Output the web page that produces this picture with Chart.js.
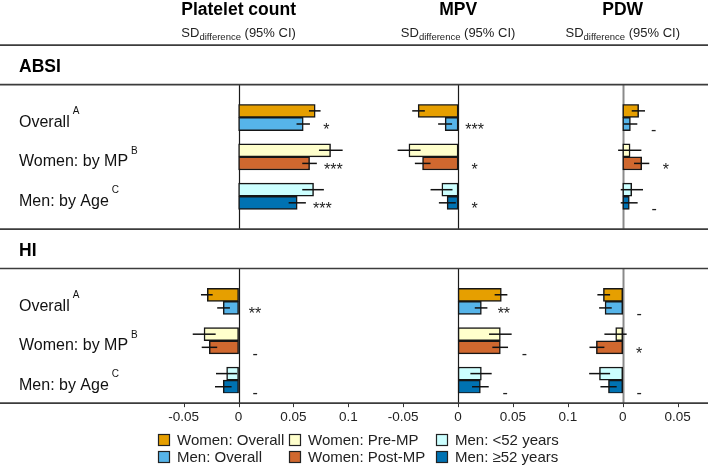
<!DOCTYPE html>
<html>
<head>
<meta charset="utf-8">
<script src="https://cdn.jsdelivr.net/npm/chart.js@4.4.1/dist/chart.umd.min.js"></script>
<style>
html,body{margin:0;padding:0;background:#ffffff;}
#wrap{position:relative;width:708px;height:467px;}
</style>
</head>
<body>
<div id="wrap"><canvas id="c"></canvas></div>
<script>
// ---------------- data ----------------
const groups = ['Women: Overall', 'Men: Overall', 'Women: Pre-MP', 'Women: Post-MP', 'Men: <52 years', 'Men: \u226552 years'];
const sections = ['ABSI', 'HI'];
const rowLabels = ['Overall', 'Women: by MP', 'Men: by Age'];
const rowNotes = ['A', 'B', 'C'];
const measures = ['Platelet count', 'MPV', 'PDW'];
const plateletTicks = [-0.05, 0, 0.05, 0.1];
const mpvTicks = [-0.05, 0, 0.05, 0.1];
const pdwTicks = [0, 0.05];

// ABSI (SD difference, lower CI, upper CI)
const absiPlatelet   = [0.0698, 0.0589, 0.0838, 0.0647, 0.0683, 0.0534];
const absiPlateletLo = [0.0641, 0.0528, 0.0732, 0.0580, 0.0580, 0.0456];
const absiPlateletHi = [0.0747, 0.0650, 0.0948, 0.0713, 0.0777, 0.0613];
const absiMpv   = [-0.0364, -0.0118, -0.0448, -0.0324, -0.0148, -0.0100];
const absiMpvLo = [-0.0418, -0.0182, -0.0551, -0.0394, -0.0251, -0.0175];
const absiMpvHi = [-0.0303, -0.0055, -0.0342, -0.0251, -0.0051, -0.0021];
const absiPdw   = [0.0145, 0.0070, 0.0067, 0.0173, 0.0082, 0.0060];
const absiPdwLo = [0.0082, 0.0006, -0.0042, 0.0103, -0.0018, -0.0018];
const absiPdwHi = [0.0203, 0.0133, 0.0170, 0.0242, 0.0185, 0.0136];

// HI
const hiPlatelet   = [-0.0285, -0.0140, -0.0315, -0.0267, -0.0109, -0.0140];
const hiPlateletLo = [-0.0343, -0.0195, -0.0418, -0.0336, -0.0206, -0.0215];
const hiPlateletHi = [-0.0236, -0.0079, -0.0209, -0.0195, -0.0013, -0.0064];
const hiMpv   = [0.0394, 0.0212, 0.0385, 0.0385, 0.0212, 0.0203];
const hiMpvLo = [0.0333, 0.0152, 0.0282, 0.0312, 0.0112, 0.0127];
const hiMpvHi = [0.0449, 0.0267, 0.0488, 0.0455, 0.0306, 0.0279];
const hiPdw   = [-0.0176, -0.0161, -0.0064, -0.0240, -0.0212, -0.0130];
const hiPdwLo = [-0.0231, -0.0215, -0.0167, -0.0303, -0.0306, -0.0203];
const hiPdwHi = [-0.0115, -0.0100, 0.0036, -0.0167, -0.0115, -0.0055];

// significance labels per row (Overall, by MP, by Age)
const absiPlateletSig = ['*', '***', '***'];
const absiMpvSig      = ['***', '*', '*'];
const absiPdwSig      = ['-', '*', '-'];
const hiPlateletSig   = ['**', '-', '-'];
const hiMpvSig        = ['**', '-', '-'];
const hiPdwSig        = ['-', '*', '-'];

// ---------------- layout / style ----------------
const FONT = "'Liberation Sans', Arial, Helvetica, sans-serif";
const groupColors = ['#E69F00', '#56B4E9', '#FFFFCC', '#D0682F', '#CCFFFF', '#0072B2'];
const panelOffset = [0, 0.2, 0.35];     // where each panel's zero sits on the shared axis
const panelTicks = [plateletTicks, mpvTicks, pdwTicks];
const zeroLineColor = ['#1a1a1a', '#1a1a1a', '#8a8a8a'];
const zeroLineWidth = [1.2, 1.2, 2];
const SLOTS = 22;
const HI_START = 14;
const slotOf = (s, g) => (s === 0 ? 0 : HI_START) + Math.floor(g / 2) * 3 + (g % 2);

const vals = [[absiPlatelet, hiPlatelet], [absiMpv, hiMpv], [absiPdw, hiPdw]];
const lows = [[absiPlateletLo, hiPlateletLo], [absiMpvLo, hiMpvLo], [absiPdwLo, hiPdwLo]];
const highs = [[absiPlateletHi, hiPlateletHi], [absiMpvHi, hiMpvHi], [absiPdwHi, hiPdwHi]];
const sigs = [[absiPlateletSig, hiPlateletSig], [absiMpvSig, hiMpvSig], [absiPdwSig, hiPdwSig]];

const slotLabels = Array.from({length: SLOTS}, (_, i) => 's' + i);

const fmt = v => (Math.abs(v) < 1e-9 ? '0' : String(+v.toFixed(2)));
const allTicks = [];
panelTicks.forEach((arr, pi) => arr.forEach(v => allTicks.push({value: +(panelOffset[pi] + v).toFixed(4), label: fmt(v)})));

const datasets = measures.map((m, mi) => {
  const data = new Array(SLOTS).fill(null);
  const bg = new Array(SLOTS).fill('rgba(0,0,0,0)');
  for (let s = 0; s < 2; s++) {
    for (let g = 0; g < groups.length; g++) {
      const slot = slotOf(s, g);
      data[slot] = [panelOffset[mi], panelOffset[mi] + vals[mi][s][g]];
      bg[slot] = groupColors[g];
    }
  }
  return {
    label: m, data, backgroundColor: bg, borderColor: '#161616', borderWidth: 1.5,
    borderSkipped: false, grouped: false, barPercentage: 1, categoryPercentage: 1
  };
});

const decor = {
  id: 'decor',
  beforeDatasetsDraw(chart) {
    const ctx = chart.ctx, x = chart.scales.x, y = chart.scales.y;
    const sh = (y.bottom - y.top) / SLOTS;
    const c = i => y.getPixelForValue(i);
    const spans = [[c(0) - 2 * sh, c(7) + 2 * sh], [c(HI_START) - 2 * sh, c(21) + 1.25 * sh]];
    ctx.save();
    panelOffset.forEach((off, pi) => {
      const px = Math.round(x.getPixelForValue(off)) + 0.5;
      ctx.strokeStyle = zeroLineColor[pi];
      ctx.lineWidth = zeroLineWidth[pi];
      spans.forEach(([a, b]) => { ctx.beginPath(); ctx.moveTo(px, a); ctx.lineTo(px, b); ctx.stroke(); });
    });
    ctx.restore();
  },
  afterDatasetsDraw(chart) {
    const ctx = chart.ctx, x = chart.scales.x, y = chart.scales.y;
    const W = chart.width;
    const sh = (y.bottom - y.top) / SLOTS;
    const c = i => y.getPixelForValue(i);
    ctx.save();
    // error bars
    ctx.strokeStyle = '#111';
    ctx.lineWidth = 1.5;
    for (let mi = 0; mi < 3; mi++) for (let s = 0; s < 2; s++) for (let g = 0; g < groups.length; g++) {
      const yy = c(slotOf(s, g));
      ctx.beginPath();
      ctx.moveTo(x.getPixelForValue(panelOffset[mi] + lows[mi][s][g]), yy);
      ctx.lineTo(x.getPixelForValue(panelOffset[mi] + highs[mi][s][g]), yy);
      ctx.stroke();
    }
    // significance marks
    ctx.fillStyle = '#222';
    ctx.font = '16px ' + FONT;
    ctx.textAlign = 'center';
    ctx.textBaseline = 'alphabetic';
    for (let mi = 0; mi < 3; mi++) for (let s = 0; s < 2; s++) for (let r = 0; r < 3; r++) {
      const g = r * 2 + 1;
      const xv = panelOffset[mi] + Math.max(highs[mi][s][g], 0) + 0.015;
      ctx.fillText(sigs[mi][s][r], x.getPixelForValue(xv), c(slotOf(s, g)) + 11.2);
    }
    // section lines
    const lineYs = [c(0) - 5 * sh, c(0) - 2 * sh, c(7) + 2 * sh, c(HI_START) - 2 * sh, c(21) + 1.25 * sh];
    ctx.strokeStyle = '#3c3c3c';
    ctx.lineWidth = 1.7;
    lineYs.forEach(ly => { ctx.beginPath(); ctx.moveTo(0, ly); ctx.lineTo(W, ly); ctx.stroke(); });
    // tick marks
    const axisY = lineYs[4];
    ctx.lineWidth = 1;
    ctx.strokeStyle = '#333';
    allTicks.forEach(t => {
      const px = Math.round(x.getPixelForValue(t.value)) + 0.5;
      ctx.beginPath(); ctx.moveTo(px, axisY); ctx.lineTo(px, axisY + 4); ctx.stroke();
    });
    // section titles
    ctx.fillStyle = '#000';
    ctx.textAlign = 'left';
    ctx.font = 'bold 17.5px ' + FONT;
    ctx.fillText(sections[0], 19, (lineYs[0] + lineYs[1]) / 2 + 6.8);
    ctx.fillText(sections[1], 19, (lineYs[2] + lineYs[3]) / 2 + 6.8);
    // row labels
    ctx.fillStyle = '#111';
    for (let s = 0; s < 2; s++) for (let r = 0; r < 3; r++) {
      const yc = (c(slotOf(s, r * 2)) + c(slotOf(s, r * 2 + 1))) / 2;
      ctx.font = '16px ' + FONT;
      ctx.fillText(rowLabels[r], 19, yc + 9.5);
      const w = ctx.measureText(rowLabels[r]).width;
      ctx.font = '10px ' + FONT;
      ctx.fillText(rowNotes[r], 19 + w + 3, yc + 9.5 - 12.5);
    }
    // panel headers
    panelOffset.forEach((off, pi) => {
      const cx = x.getPixelForValue(off);
      ctx.textAlign = 'center';
      ctx.fillStyle = '#000';
      ctx.font = 'bold 17.5px ' + FONT;
      ctx.fillText(measures[pi], cx, 15.2);
      ctx.textAlign = 'left';
      ctx.fillStyle = '#222';
      ctx.font = '13px ' + FONT;
      const w1 = ctx.measureText('SD').width;
      const w3 = ctx.measureText(' (95% CI)').width;
      ctx.font = '9.5px ' + FONT;
      const w2 = ctx.measureText('difference').width;
      let sx = cx - (w1 + w2 + w3) / 2;
      ctx.font = '13px ' + FONT;
      ctx.fillText('SD', sx, 36.6);
      ctx.font = '9.5px ' + FONT;
      ctx.fillText('difference', sx + w1, 39.5);
      ctx.font = '13px ' + FONT;
      ctx.fillText(' (95% CI)', sx + w1 + w2, 36.6);
    });
    // legend
    const colX = [158, 289, 436];
    const rowY = [440, 457];
    ctx.font = '15px ' + FONT;
    ctx.textBaseline = 'middle';
    ctx.textAlign = 'left';
    groups.forEach((gname, g) => {
      const bx = colX[Math.floor(g / 2)], by = rowY[g % 2];
      ctx.fillStyle = groupColors[g];
      ctx.fillRect(bx, by - 6, 12, 12);
      ctx.strokeStyle = '#222';
      ctx.lineWidth = 1.2;
      ctx.strokeRect(bx + 0.5, by - 5.5, 11, 11);
      ctx.fillStyle = '#222';
      ctx.fillText(gname, bx + 19, by + 1);
    });
    ctx.restore();
  }
};

Chart.defaults.font.family = FONT;
new Chart(document.getElementById('c'), {
  type: 'bar',
  data: { labels: slotLabels, datasets },
  options: {
    indexAxis: 'y',
    responsive: true,
    maintainAspectRatio: false,
    animation: false,
    devicePixelRatio: 1,
    layout: { padding: { top: 104.3, bottom: 33.7, left: 0, right: 0 } },
    plugins: { legend: { display: false }, tooltip: { enabled: false } },
    scales: {
      y: { type: 'category', display: false, offset: true },
      x: {
        type: 'linear',
        min: -0.2174,
        max: 0.4277,
        grid: { display: false, drawTicks: false },
        border: { display: false },
        afterBuildTicks: scale => { scale.ticks = allTicks.map(t => ({ value: t.value })); },
        afterFit: scale => { scale.height = 40; },
        ticks: {
          autoSkip: false, maxRotation: 0, minRotation: 0, padding: 16,
          color: '#222', font: { size: 13.5, family: FONT },
          callback: (value, index) => (allTicks[index] ? allTicks[index].label : '')
        }
      }
    }
  },
  plugins: [decor]
});
</script>
</body>
</html>
